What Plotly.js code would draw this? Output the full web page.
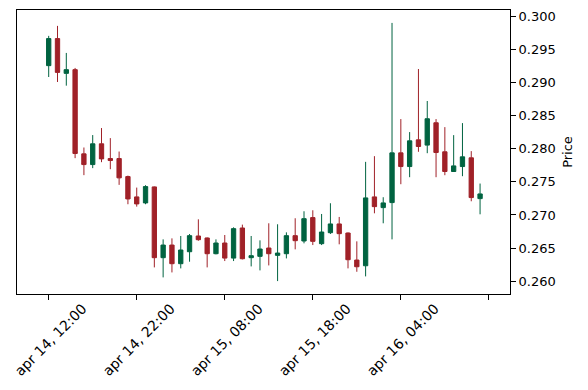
<!DOCTYPE html>
<html>
<head>
<meta charset="utf-8">
<script src="https://cdn.plot.ly/plotly-3.0.1.min.js"></script>
<style>html,body{margin:0;padding:0;background:#fff;}#chart{width:588px;height:390px;}</style>
</head>
<body>
<div id="chart"></div>
<script>
const opens  = [0.29258,0.29667,0.29141,0.29197,0.27924,0.27762,0.28076,0.27853,0.27853,0.27580,
                0.27273,0.27182,0.27424,0.26354,0.26545,0.26263,0.26444,0.26682,0.26652,0.26414,
                0.26576,0.26348,0.26803,0.26354,0.26374,0.26500,0.26389,0.26414,0.26687,0.26606,
                0.26960,0.26566,0.26732,0.26864,0.26727,0.26318,0.26232,0.27273,0.27111,0.27187,
                0.27939,0.27732,0.28136,0.28056,0.28394,0.27955,0.27657,0.27732,0.27864,0.27247];
const highs  = [0.29708,0.29859,0.29450,0.29223,0.28020,0.28208,0.28314,0.28162,0.27959,0.27595,
                0.27414,0.27450,0.27430,0.26631,0.26646,0.26682,0.26712,0.26934,0.26660,0.26631,
                0.26697,0.26813,0.26854,0.26682,0.26616,0.26874,0.26859,0.26737,0.26950,0.27056,
                0.27071,0.27015,0.27177,0.26970,0.26735,0.26601,0.27803,0.27889,0.27268,0.29904,
                0.28450,0.28253,0.29207,0.28723,0.28450,0.28328,0.28207,0.28389,0.27965,0.27475];
const lows   = [0.29086,0.29011,0.28955,0.27859,0.27602,0.27708,0.27798,0.27692,0.27455,0.27162,
                0.27126,0.27162,0.26207,0.26056,0.26131,0.26192,0.26293,0.26610,0.26207,0.26404,
                0.26303,0.26303,0.26328,0.26222,0.26162,0.26237,0.26000,0.26343,0.26480,0.26571,
                0.26545,0.26545,0.26712,0.26556,0.26192,0.26141,0.26071,0.27025,0.26874,0.26631,
                0.27465,0.27571,0.27955,0.27934,0.27571,0.27601,0.27657,0.27586,0.27207,0.27010];
const closes = [0.29667,0.29156,0.29197,0.27929,0.27762,0.28076,0.27848,0.27823,0.27561,0.27242,
                0.27167,0.27429,0.26354,0.26545,0.26263,0.26470,0.26687,0.26626,0.26414,0.26576,
                0.26348,0.26793,0.26338,0.26384,0.26485,0.26414,0.26424,0.26687,0.26611,0.26944,
                0.26601,0.26742,0.26864,0.26717,0.26323,0.26217,0.27258,0.27126,0.27182,0.27939,
                0.27732,0.28121,0.28035,0.28455,0.27944,0.27657,0.27742,0.27879,0.27263,0.27318];
const tickPositions = [0, 10, 20, 30, 40, 50];
const tickLabels = ["apr 14, 12:00", "apr 14, 22:00", "apr 15, 08:00", "apr 15, 18:00", "apr 16, 04:00", ""];

const idx = opens.map((_, i) => i);
const lo = Math.min(...lows), hi = Math.max(...highs), pad = (hi - lo) * 0.05;

const font = {family: "DejaVu Sans, sans-serif", size: 13, color: "#000"};
const xfont = {family: "DejaVu Sans, sans-serif", size: 14, color: "#000"};
Plotly.newPlot("chart", [{
  type: "candlestick",
  x: idx, open: opens, high: highs, low: lows, close: closes,
  increasing: {line: {color: "#006340", width: 1}, fillcolor: "#006340"},
  decreasing: {line: {color: "#A02128", width: 1}, fillcolor: "#A02128"},
  whiskerwidth: 0,
  hoverinfo: "none"
}], {
  width: 588, height: 390,
  margin: {l: 17, r: 78, t: 10, b: 96},
  paper_bgcolor: "#fff", plot_bgcolor: "#fff",
  showlegend: false,
  font: font,
  xaxis: {
    range: [-3.6, 52.4],
    rangeslider: {visible: false},
    tickmode: "array", tickvals: tickPositions, ticktext: tickLabels,
    tickangle: -45,
    ticklabelshift: 34,
    ticklabelstandoff: -5,
    ticklabeloverflow: "allow",
    ticks: "outside", ticklen: 5, tickcolor: "#000",
    showline: true, linecolor: "#000", linewidth: 1, mirror: true,
    showgrid: false, zeroline: false,
    tickfont: xfont
  },
  yaxis: {
    side: "right",
    range: [lo - pad, hi + pad],
    tickmode: "linear", tick0: 0.26, dtick: 0.005, tickformat: ".3f",
    ticks: "outside", ticklen: 5, tickcolor: "#000",
    showline: true, linecolor: "#000", linewidth: 1, mirror: true,
    showgrid: false, zeroline: false,
    tickfont: font,
    title: {text: "Price", font: font, standoff: 8}
  }
}, {staticPlot: true, displayModeBar: false});
</script>
</body>
</html>
